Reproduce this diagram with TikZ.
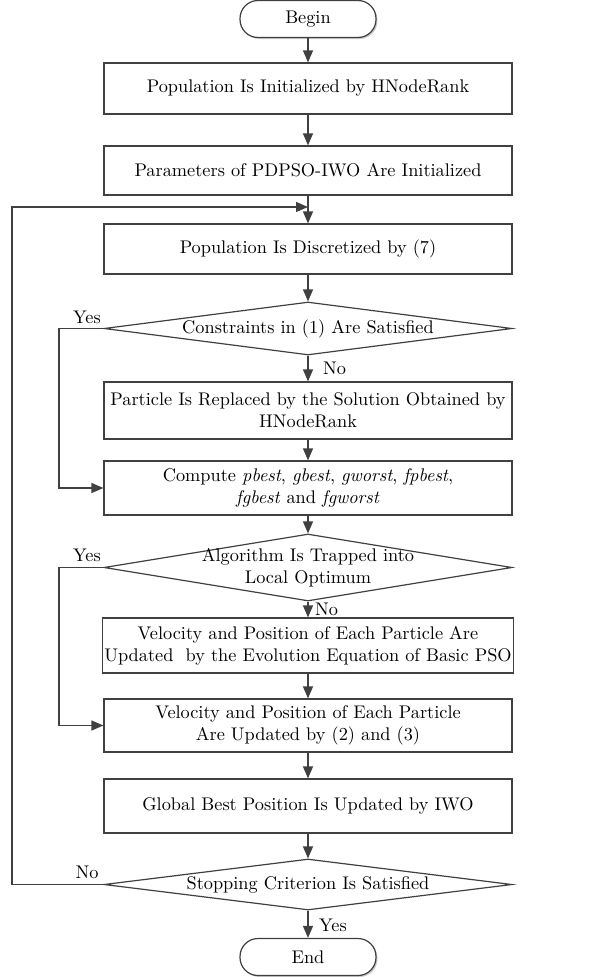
\documentclass[tikz,border=0pt]{standalone}
\usepackage{fontspec}
\setmainfont{lmroman10-regular.otf}[ItalicFont=lmroman10-italic.otf, BoldFont=lmroman10-bold.otf]
\usetikzlibrary{arrows.meta,shapes.geometric,shadows}
\definecolor{lc}{HTML}{404040}
\begin{document}
\begin{tikzpicture}[x=1pt,y=-1pt,
  font=\fontsize{18.3}{22}\selectfont,
  box/.style={draw=lc, line width=1.2pt, minimum width=408pt, inner sep=2pt, align=center},
  term/.style={draw=lc, line width=1.2pt, rounded corners=18pt, minimum width=136pt, minimum height=37pt,
    general shadow={shadow xshift=1.5pt, shadow yshift=-1.5pt, fill=black!20}, fill=white},
  dia/.style={draw=lc, line width=1.2pt, diamond, minimum width=408pt, inner sep=0pt},
  dtext/.style={align=center, inner sep=0pt},
  lab/.style={inner sep=0pt},
  arr/.style={draw=lc, line width=1.2pt, -{Triangle[length=12pt,width=10pt]}},
  ln/.style={draw=lc, line width=1.2pt}]
\useasboundingbox (0,0) rectangle (611,977);

\node[term] (begin) at (308,19) {Begin};
\node[box, minimum height=51pt] (b1) at (308,88.5) {Population Is Initialized by HNodeRank};
\node[box, minimum height=49pt] (b2) at (308,170.5) {Parameters of PDPSO-IWO Are Initialized};
\node[box, minimum height=50pt] (b3) at (308,249) {Population Is Discretized by (7)};
\node[dia, minimum height=53pt] (d1) at (308,328.5) {};
\node[dtext] (d1t) at (d1.center) {Constraints in (1) Are Satisfied};
\node[box, minimum height=57pt] (b4) at (308,410.5) {Particle Is Replaced by the Solution Obtained by\\HNodeRank};
\node[box, minimum height=54pt] (b5) at (308,488) {Compute \textit{pbest}, \textit{gbest}, \textit{gworst}, \textit{fpbest},\\\textit{fgbest} and \textit{fgworst}};
\node[dia, minimum height=67pt] (d2) at (308,567.5) {};
\node[dtext] (d2t) at (d2.center) {Algorithm Is Trapped into\\Local Optimum};
\node[box, minimum height=55pt] (b6) at (308,645.5) {Velocity and Position of Each Particle Are\\Updated\ \ by the Evolution Equation of Basic PSO};
\node[box, minimum height=53pt] (b7) at (308,725.5) {Velocity and Position of Each Particle\\Are Updated by (2) and (3)};
\node[box, minimum height=54pt] (b8) at (308,806) {Global Best Position Is Updated by IWO};
\node[dia, minimum height=51pt] (d3) at (308,884.5) {};
\node[dtext] (d3t) at (d3.center) {Stopping Criterion Is Satisfied};
\node[term] (end) at (308,957) {End};

\coordinate (join) at (308,207);
\coordinate (loopc) at (12,207);
\coordinate (y1c) at (59,488);
\coordinate (y2c) at (59,725.5);

\draw[arr] (begin) -- (b1);
\draw[arr] (b1) -- (b2);
\draw[arr] (b2) -- (b3);
\draw[arr] (b3) -- (d1);
\draw[arr] (d1) -- (b4);
\draw[arr] (b4) -- (b5);
\draw[arr] (b5) -- (d2);
\draw[arr] (d2) -- (b6);
\draw[arr] (b6) -- (b7);
\draw[arr] (b7) -- (b8);
\draw[arr] (b8) -- (d3);
\draw[arr] (d3) -- (end);
\draw[arr] (d1.west) -| (y1c) -- (b5.west);
\draw[arr] (d2.west) -| (y2c) -- (b7.west);
\draw[arr] (d3.west) -| (loopc) -- (join);

\node[lab] (l1) at (87,317) {Yes};
\node[lab, anchor=west] (l2) at (323,368) {No};
\node[lab] (l3) at (87,555) {Yes};
\node[lab, anchor=west] (l4) at (315,609) {No};
\node[lab] (l5) at (87,872) {No};
\node[lab, anchor=west] (l6) at (319,925) {Yes};
\end{tikzpicture}
\end{document}
